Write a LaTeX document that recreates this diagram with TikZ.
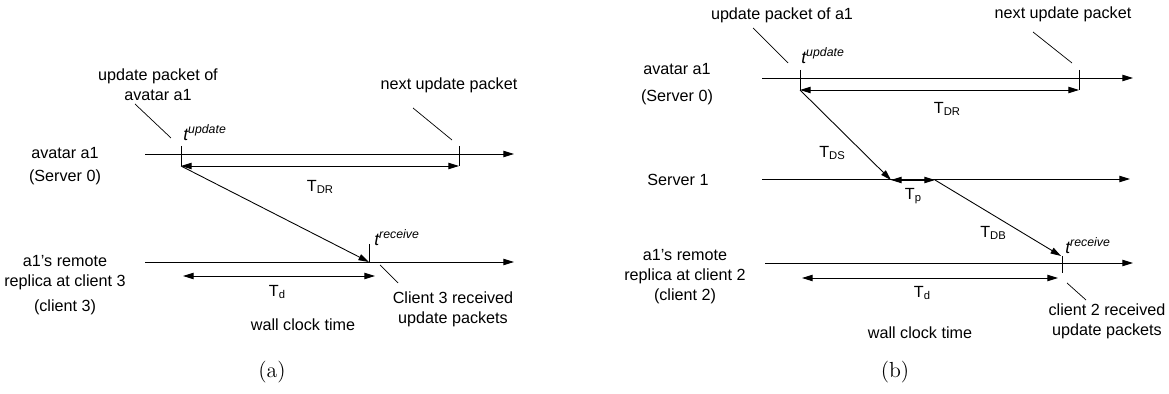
\documentclass[tikz,border=0pt]{standalone}
\usepackage{fontspec}
\newfontfamily\arialfont{Liberation Sans}
\usetikzlibrary{arrows.meta}

% small lowered index and time stamps
\newcommand{\tsub}[1]{\raisebox{-1.5pt}{\fontsize{6.4}{6.4}\selectfont #1}}
\newcommand{\tstamp}[1]{{\fontsize{10}{10}\selectfont\itshape t}\raisebox{4.5pt}{\fontsize{7}{7}\selectfont\itshape #1}}

\tikzset{
  lbl/.style={font=\arialfont\fontsize{9.2}{11.4}\selectfont, inner sep=0pt, align=center},
  stamp/.style={font=\arialfont, inner sep=0pt, anchor=base west},
  timeaxis/.style={line width=0.5pt, -{Triangle[length=6pt,width=3.6pt]}},
  spanarr/.style={line width=0.5pt, {Triangle[length=6pt,width=3.6pt]}-{Triangle[length=6pt,width=3.6pt]}},
  msgarr/.style={line width=0.5pt, -{Triangle[length=6pt,width=3.6pt]}},
  tickln/.style={line width=0.5pt},
  leadln/.style={line width=0.4pt},
}

\begin{document}
\begin{tikzpicture}[x=0.02cm, y=-0.02cm]
    \useasboundingbox (0,0) rectangle (1169,394);

    %%%%%%%%%%%%%%%%%%%%%%%%%%%%%%%%%%%%%%%%%%%%%%%%%%%%%%
    % (a)
    %%%%%%%%%%%%%%%%%%%%%%%%%%%%%%%%%%%%%%%%%%%%%%%%%%%%%%

    % avatar a1 time line
    \node[lbl] (avA) at (65,166) {avatar a1\\[1.6pt](Server 0)};
    \coordinate (a0s) at (145,154);
    \coordinate (a0e) at (514,154);
    \draw[timeaxis] (a0s) -- (a0e);

    % update packet
    \node[lbl] (pktA) at (158,85) {update packet of\\avatar a1};
    \coordinate (pktAl) at (135,104);
    \coordinate (pktAr) at (171,138);
    \draw[leadln] (pktAl) -- (pktAr);
    \node[stamp] (tupA) at (183,141) {\tstamp{update}};
    \coordinate (aUp) at (181,146);
    \coordinate (aUd) at (181,166);
    \draw[tickln] (aUp) -- (aUd);

    % next update packet
    \node[lbl] (nxtA) at (449,85) {next update packet};
    \coordinate (nxtAl) at (413,108);
    \coordinate (nxtAr) at (452,140);
    \draw[leadln] (nxtAl) -- (nxtAr);
    \coordinate (aNu) at (459,146);
    \coordinate (aNd) at (459,166);
    \draw[tickln] (aNu) -- (aNd);

    % dead reckoning interval
    \draw[spanarr] (aUd) -- (aNd);
    \node[lbl] (tdrA) at (320,187) {T\tsub{DR}};

    %%%%%%%%%%%%%%%%%%%%%%%%%%%%%%%%%%%%%%%%%%%%%%%%%%%%%%

    % client 3 time line
    \node[lbl] (repA) at (65,285) {a1’s remote\\replica at client 3\\[2.8pt](client 3)};
    \coordinate (a3s) at (145,262);
    \coordinate (a3e) at (514,262);
    \draw[timeaxis] (a3s) -- (a3e);

    % packet to client 3
    \coordinate (aRu) at (369,244);
    \coordinate (aRd) at (369,262);
    \draw[msgarr] (aUd) -- (aRd);
    \draw[tickln] (aRu) -- (aRd);
    \node[stamp] (trcA) at (374,246) {\tstamp{receive}};

    % received
    \coordinate (rcvAl) at (380,265);
    \coordinate (rcvAr) at (398,283);
    \draw[leadln] (rcvAl) -- (rcvAr);
    \node[lbl] (rcvA) at (453,309) {Client 3 received\\update packets};

    % delay
    \coordinate (aTds) at (183,276);
    \coordinate (aTde) at (375,276);
    \draw[spanarr] (aTds) -- (aTde);
    \node[lbl] (tdA) at (277,292) {T\tsub{d}};
    \node[lbl] (wallA) at (303,325) {wall clock time};

    \node[font=\fontsize{12.4}{14}\selectfont] (capA) at (272,372) {(a)};

    %%%%%%%%%%%%%%%%%%%%%%%%%%%%%%%%%%%%%%%%%%%%%%%%%%%%%%
    % (b)
    %%%%%%%%%%%%%%%%%%%%%%%%%%%%%%%%%%%%%%%%%%%%%%%%%%%%%%

    % avatar a1 time line
    \node[lbl] (avB) at (677,84) {avatar a1\\[4pt](Server 0)};
    \coordinate (b0s) at (762,78);
    \coordinate (b0e) at (1133,78);
    \draw[timeaxis] (b0s) -- (b0e);

    % update packet
    \node[lbl] (pktB) at (782,15) {update packet of a1};
    \coordinate (pktBl) at (753,28);
    \coordinate (pktBr) at (788,63);
    \draw[leadln] (pktBl) -- (pktBr);
    \node[stamp] (tupB) at (801,64) {\tstamp{update}};
    \coordinate (bUp) at (800,70);
    \coordinate (bUd) at (800,90);
    \draw[tickln] (bUp) -- (bUd);

    % next update packet
    \node[lbl] (nxtB) at (1063,14) {next update packet};
    \coordinate (nxtBl) at (1033,32);
    \coordinate (nxtBr) at (1072,63);
    \draw[leadln] (nxtBl) -- (nxtBr);
    \coordinate (bNu) at (1079,70);
    \coordinate (bNd) at (1079,90);
    \draw[tickln] (bNu) -- (bNd);

    % dead reckoning interval
    \draw[spanarr] (bUd) -- (bNd);
    \node[lbl] (tdrB) at (947,109) {T\tsub{DR}};

    %%%%%%%%%%%%%%%%%%%%%%%%%%%%%%%%%%%%%%%%%%%%%%%%%%%%%%

    % server 1 time line
    \node[lbl] (srvB) at (678,180) {Server 1};
    \coordinate (b1s) at (762,179);
    \coordinate (b1e) at (1130,179);
    \draw[timeaxis] (b1s) -- (b1e);

    % packet to server 1
    \coordinate (bSa) at (891,180);
    \coordinate (bSb) at (935,180);
    \draw[msgarr] (bUd) -- (bSa);
    \node[lbl] (tdsB) at (832,153) {T\tsub{DS}};

    % processing
    \draw[spanarr] (bSa) -- (bSb);
    \node[lbl] (tpB) at (913,196) {T\tsub{p}};

    %%%%%%%%%%%%%%%%%%%%%%%%%%%%%%%%%%%%%%%%%%%%%%%%%%%%%%

    % client 2 time line
    \node[lbl] (repB) at (685,277) {a1’s remote\\replica at client 2\\(client 2)};
    \coordinate (b2s) at (765,263);
    \coordinate (b2e) at (1133,263);
    \draw[timeaxis] (b2s) -- (b2e);

    % packet to client 2
    \coordinate (bRu) at (1061,256);
    \coordinate (bRd) at (1062,273);
    \coordinate (bRt) at (1062,256);
    \draw[msgarr] (bSb) -- (bRu);
    \draw[tickln] (bRt) -- (bRd);
    \node[lbl] (tdbB) at (993,233) {T\tsub{DB}};
    \node[stamp] (trcB) at (1065,254) {\tstamp{receive}};

    % received
    \coordinate (rcvBl) at (1067,283);
    \coordinate (rcvBr) at (1086,300);
    \draw[leadln] (rcvBl) -- (rcvBr);
    \node[lbl] (rcvB) at (1107,321) {client 2 received\\update packets};

    % delay
    \coordinate (bTds) at (802,278);
    \coordinate (bTde) at (1058,278);
    \draw[spanarr] (bTds) -- (bTde);
    \node[lbl] (tdB) at (922,293) {T\tsub{d}};
    \node[lbl] (wallB) at (920,333) {wall clock time};

    \node[font=\fontsize{12.4}{14}\selectfont] (capB) at (895,372) {(b)};

\end{tikzpicture}
\end{document}
